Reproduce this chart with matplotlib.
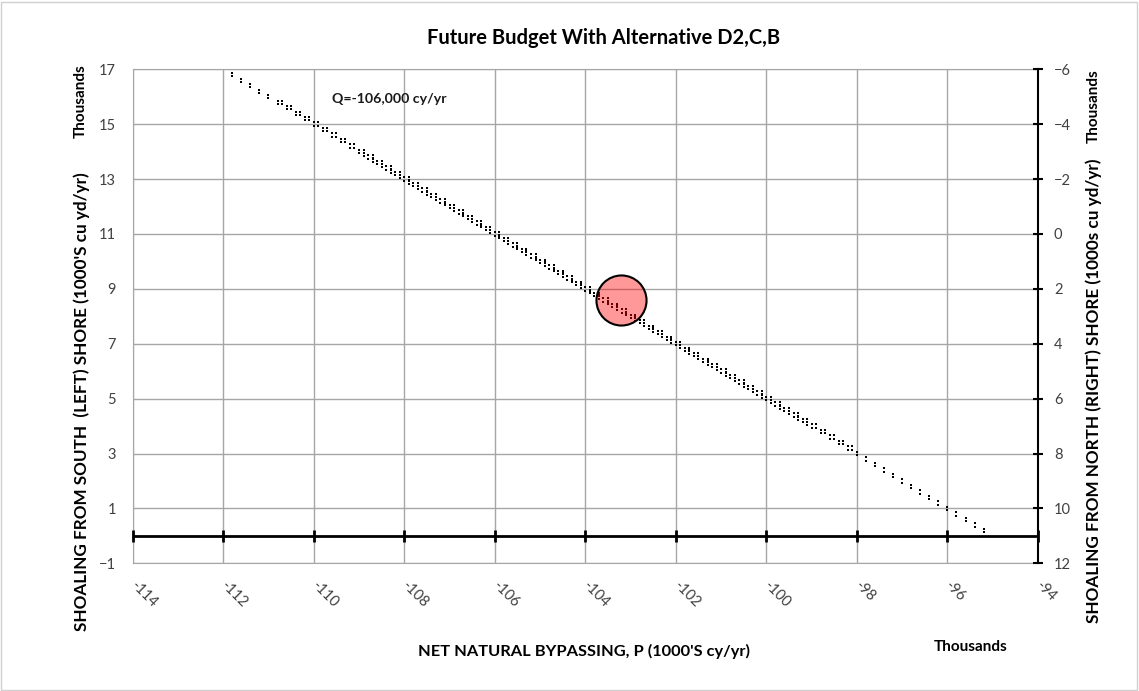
import matplotlib
matplotlib.use("Agg")
import matplotlib.pyplot as plt
import matplotlib.transforms as mtransforms
from matplotlib.patches import Rectangle

plt.rcParams['font.family'] = ['Lato', 'DejaVu Sans']

# net natural bypassing P (thousands cy/yr) vs shoaling from south shore (thousands cy/yr)
p_main = [-111.8, -111.6, -111.4, -111.2, -111.0, -110.8, -110.6, -110.4, -110.2, -110.0,
          -109.8, -109.6, -109.4, -109.2, -109.0, -108.8, -108.6, -108.4, -108.2, -108.0,
          -107.8, -107.6, -107.4, -107.2, -107.0, -106.8, -106.6, -106.4, -106.2, -106.0,
          -105.8, -105.6, -105.4, -105.2, -105.0, -104.8, -104.6, -104.4, -104.2, -104.0,
          -103.8, -103.6, -103.4, -103.2, -103.0, -102.8, -102.6, -102.4, -102.2, -102.0,
          -101.8, -101.6, -101.4, -101.2, -101.0, -100.8, -100.6, -100.4, -100.2, -100.0,
          -99.8, -99.6, -99.4, -99.2, -99.0, -98.8, -98.6, -98.4, -98.2, -98.0,
          -97.8, -97.6, -97.4, -97.2, -97.0, -96.8, -96.6, -96.4, -96.2, -96.0,
          -95.8, -95.6, -95.4, -95.2]
s_main = [16.8, 16.6, 16.4, 16.2, 16.0, 15.8, 15.6, 15.4, 15.2, 15.0,
          14.8, 14.6, 14.4, 14.2, 14.0, 13.8, 13.6, 13.4, 13.2, 13.0,
          12.8, 12.6, 12.4, 12.2, 12.0, 11.8, 11.6, 11.4, 11.2, 11.0,
          10.8, 10.6, 10.4, 10.2, 10.0, 9.8, 9.6, 9.4, 9.2, 9.0,
          8.8, 8.6, 8.4, 8.2, 8.0, 7.8, 7.6, 7.4, 7.2, 7.0,
          6.8, 6.6, 6.4, 6.2, 6.0, 5.8, 5.6, 5.4, 5.2, 5.0,
          4.8, 4.6, 4.4, 4.2, 4.0, 3.8, 3.6, 3.4, 3.2, 3.0,
          2.8, 2.6, 2.4, 2.2, 2.0, 1.8, 1.6, 1.4, 1.2, 1.0,
          0.8, 0.6, 0.4, 0.2]
p_fill = [-110.7, -110.5, -110.3, -110.1,
          -109.9, -109.7, -109.5, -109.3, -109.1, -108.9, -108.7, -108.5, -108.3, -108.1,
          -107.9, -107.7, -107.5, -107.3, -107.1, -106.9, -106.7, -106.5, -106.3, -106.1,
          -105.9, -105.7, -105.5, -105.3, -105.1, -104.9, -104.7, -104.5, -104.3, -104.1,
          -103.9, -103.7, -103.5, -103.3, -103.1, -102.9, -102.7, -102.5, -102.3, -102.1,
          -101.9, -101.7, -101.5, -101.3, -101.1, -100.9, -100.7, -100.5, -100.3, -100.1,
          -99.9, -99.7, -99.5, -99.3, -99.1, -98.9, -98.7, -98.5, -98.3, -98.1]
s_fill = [15.8, 15.6, 15.4, 15.2,
          15.0, 14.8, 14.6, 14.4, 14.2, 14.0, 13.8, 13.6, 13.4, 13.2,
          13.0, 12.8, 12.6, 12.4, 12.2, 12.0, 11.8, 11.6, 11.4, 11.2,
          11.0, 10.8, 10.6, 10.4, 10.2, 10.0, 9.8, 9.6, 9.4, 9.2,
          9.0, 8.8, 8.6, 8.4, 8.2, 8.0, 7.8, 7.6, 7.4, 7.2,
          7.0, 6.8, 6.6, 6.4, 6.2, 6.0, 5.8, 5.6, 5.4, 5.2,
          5.0, 4.8, 4.6, 4.4, 4.2, 4.0, 3.8, 3.6, 3.4, 3.2]
p_mid = [-108.9, -108.7, -108.5, -108.3, -108.1,
         -107.9, -107.7, -107.5, -107.3, -107.1, -106.9, -106.7, -106.5, -106.3, -106.1,
         -105.9, -105.7, -105.5, -105.3, -105.1, -104.9, -104.7, -104.5, -104.3, -104.1,
         -103.9, -103.7, -103.5, -103.3, -103.1, -102.9, -102.7, -102.5, -102.3, -102.1,
         -101.9, -101.7, -101.5, -101.3, -101.1, -100.9, -100.7, -100.5, -100.3, -100.1,
         -99.9, -99.7, -99.5, -99.3, -99.1]
s_mid = [13.9, 13.7, 13.5, 13.3, 13.1,
         12.9, 12.7, 12.5, 12.3, 12.1, 11.9, 11.7, 11.5, 11.3, 11.1,
         10.9, 10.7, 10.5, 10.3, 10.1, 9.9, 9.7, 9.5, 9.3, 9.1,
         8.9, 8.7, 8.5, 8.3, 8.1, 7.9, 7.7, 7.5, 7.3, 7.1,
         6.9, 6.7, 6.5, 6.3, 6.1, 5.9, 5.7, 5.5, 5.3, 5.1,
         4.9, 4.7, 4.5, 4.3, 4.1]

# selected alternative
sel_p = [-103.22]
sel_s = [8.6]

x_ticks = [-114, -112, -110, -108, -106, -104, -102, -100, -98, -96, -94]
y_ticks = [-1, 1, 3, 5, 7, 9, 11, 13, 15, 17]
y2_ticks = [-6, -4, -2, 0, 2, 4, 6, 8, 10, 12]

fig = plt.figure(figsize=(11.39, 6.91), dpi=100)
ax = fig.add_axes([0.1165, 0.1848, 0.7948, 0.7149])

grid_c = '#a6a6a6'
ax.set_xlim(-114, -94)
ax.set_ylim(-1, 17)
ax.set_xticks(x_ticks)
ax.set_yticks(y_ticks)
ax.grid(True, color=grid_c, lw=1)
ax.set_axisbelow(True)
for s in ['left', 'top', 'bottom']:
    ax.spines[s].set_color(grid_c)
ax.spines['right'].set_visible(False)
ax.tick_params(axis='y', length=0, pad=12, labelsize=10.5, labelcolor='#404040')
ax.tick_params(axis='x', length=0, pad=14, labelsize=10.5, labelcolor='#404040')
ax.set_xticklabels([str(t) for t in x_ticks], rotation=-45, ha='left', va='center',
                   rotation_mode='anchor')

# horizontal axis crossing at zero
ax.axhline(0, color='black', lw=2, zorder=3)
ax.plot(x_ticks, [0] * len(x_ticks), ls='none', marker='|', ms=8, mew=2,
        color='black', zorder=3, clip_on=False)

# points drawn as stacked pairs of tiny squares
up = ax.transData + mtransforms.ScaledTranslation(0, 1.7 / 100, fig.dpi_scale_trans)
dn = ax.transData + mtransforms.ScaledTranslation(0, -1.7 / 100, fig.dpi_scale_trans)
for px, py in [(p_main, s_main), (p_fill, s_fill), (p_mid, s_mid)]:
    for tr in (up, dn):
        ax.scatter(px, py, marker='s', s=2.8, lw=0, color='black',
                   transform=tr, zorder=4)

ax.scatter(sel_p, sel_s, s=1300, facecolor=(1, 0, 0, 0.4), edgecolor='black',
           lw=1.5, zorder=5)

ax.text(-109.6, 15.9, 'Q=-106,000 cy/yr', fontsize=10.2, fontweight='bold',
        va='center', ha='left', color='#1a1a1a')

ax2 = ax.twinx()
ax2.set_ylim(12, -6)
ax2.set_yticks(y2_ticks)
for s in ['left', 'top', 'bottom']:
    ax2.spines[s].set_visible(False)
ax2.spines['right'].set_color('black')
ax2.spines['right'].set_linewidth(1.5)
ax2.tick_params(axis='y', direction='inout', length=7, width=1.5, color='black',
                pad=8, labelsize=10.5, labelcolor='#404040')

fig.text(0.530, 0.945, 'Future Budget With Alternative D2,C,B', fontsize=14.5,
         fontweight='bold', ha='center', va='center')
fig.text(0.072, 1 - 402 / 691, "SHOALING FROM SOUTH  (LEFT) SHORE (1000'S cu yd/yr)",
         rotation=90, fontsize=12.3, fontweight='bold', ha='center', va='center')
fig.text(0.071, 1 - 101 / 691, 'Thousands', rotation=90, fontsize=11,
         fontweight='bold', ha='center', va='center')
fig.text(0.960, 1 - 391 / 691, 'SHOALING FROM NORTH (RIGHT) SHORE (1000s cu yd/yr)',
         rotation=90, fontsize=12.3, fontweight='bold', ha='center', va='center')
fig.text(0.960, 1 - 106 / 691, 'Thousands', rotation=90, fontsize=11,
         fontweight='bold', ha='center', va='center')
fig.text(584 / 1139, 1 - 651 / 691, "NET NATURAL BYPASSING, P (1000'S cy/yr)",
         fontsize=11.8, fontweight='bold', ha='center', va='center')
fig.text(971 / 1139, 1 - 647 / 691, 'Thousands', fontsize=11, fontweight='bold',
         ha='center', va='center')

fig.patches.append(Rectangle((0.001, 0.002), 0.997, 0.995, transform=fig.transFigure,
                             fill=False, edgecolor='#d0d0d0', lw=1))

fig.savefig('out.png', dpi=100)
